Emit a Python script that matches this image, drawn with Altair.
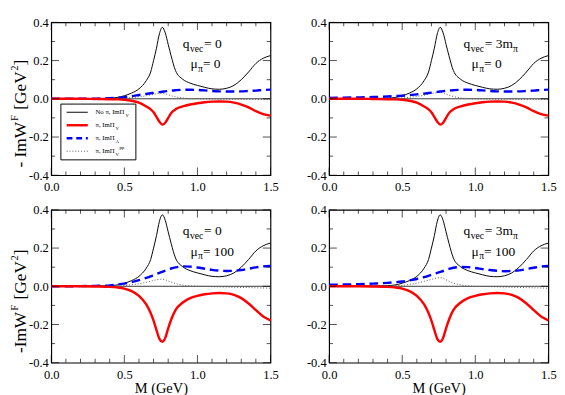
import altair as alt
import pandas as pd

SERIF = "Liberation Serif, Times New Roman, serif"
W, H = 228, 159

# ---------------- data ----------------
M = [0.0, 0.1, 0.2, 0.3, 0.4, 0.45, 0.5, 0.55, 0.6, 0.65, 0.68, 0.7, 0.72, 0.74, 0.76,
     0.78, 0.8, 0.82, 0.85, 0.9, 0.95, 1.0, 1.05, 1.1, 1.15, 1.2, 1.25, 1.3, 1.35, 1.4, 1.45, 1.5]

no_pi_V = [0, 0, 0, 0.001, 0.003, 0.007, 0.016, 0.03, 0.052, 0.095, 0.14, 0.2, 0.265, 0.34, 0.374,
           0.345, 0.285, 0.225, 0.148, 0.102, 0.082, 0.07, 0.06, 0.052, 0.05, 0.055, 0.07, 0.1, 0.14,
           0.185, 0.212, 0.226]

pi_V_mu0 = [0, 0, 0, -0.001, -0.002, -0.003, -0.005, -0.01, -0.02, -0.04, -0.055, -0.07, -0.095,
            -0.12, -0.135, -0.125, -0.1, -0.075, -0.055, -0.04, -0.03, -0.023, -0.018, -0.015,
            -0.014, -0.015, -0.02, -0.03, -0.045, -0.065, -0.08, -0.088]

pi_V_mu100 = [0, 0, 0, -0.001, -0.003, -0.006, -0.012, -0.025, -0.05, -0.095, -0.14, -0.18, -0.23,
              -0.275, -0.29, -0.27, -0.22, -0.175, -0.125, -0.085, -0.062, -0.05, -0.042, -0.037,
              -0.035, -0.037, -0.045, -0.062, -0.09, -0.125, -0.158, -0.178]

pi_A_q0_mu0 = [0, 0, 0.0005, 0.001, 0.003, 0.005, 0.009, 0.014, 0.02, 0.026, 0.029, 0.031, 0.033,
               0.035, 0.037, 0.039, 0.041, 0.043, 0.045, 0.047, 0.047, 0.046, 0.044, 0.041, 0.039,
               0.038, 0.038, 0.039, 0.041, 0.043, 0.046, 0.048]
pi_A_q3_mu0 = [0.005, 0.006, 0.007, 0.009, 0.012, 0.014, 0.016, 0.019, 0.023, 0.027, 0.03, 0.032,
               0.034, 0.036, 0.038, 0.04, 0.042, 0.043, 0.045, 0.047, 0.047, 0.046, 0.044, 0.041,
               0.039, 0.038, 0.038, 0.039, 0.041, 0.043, 0.046, 0.048]
pi_A_q0_mu100 = [0, 0, 0.001, 0.002, 0.005, 0.009, 0.014, 0.022, 0.032, 0.044, 0.052, 0.058, 0.064,
                 0.07, 0.076, 0.082, 0.088, 0.093, 0.099, 0.104, 0.103, 0.098, 0.092, 0.086, 0.082,
                 0.08, 0.081, 0.085, 0.092, 0.099, 0.104, 0.106]
pi_A_q3_mu100 = [0.008, 0.009, 0.011, 0.014, 0.018, 0.021, 0.025, 0.031, 0.038, 0.048, 0.055, 0.06,
                 0.065, 0.07, 0.075, 0.08, 0.086, 0.091, 0.097, 0.101, 0.1, 0.096, 0.09, 0.085,
                 0.081, 0.079, 0.08, 0.083, 0.09, 0.097, 0.103, 0.106]

pi_Vpp_q0_mu0 = [0, 0, 0, 0, 0.001, 0.002, 0.003, 0.006, 0.01, 0.016, 0.02, 0.023, 0.026, 0.028,
                 0.028, 0.026, 0.021, 0.016, 0.01, 0.004, 0.001, 0, -0.001, -0.001, -0.002, -0.002,
                 -0.002, -0.003, -0.003, -0.003, -0.004, -0.004]
pi_Vpp_q3_mu0 = [0, 0, 0, 0.001, 0.002, 0.003, 0.005, 0.008, 0.012, 0.019, 0.024, 0.027, 0.03,
                 0.032, 0.033, 0.031, 0.025, 0.019, 0.012, 0.005, 0.001, 0, -0.001, -0.001, -0.002,
                 -0.002, -0.002, -0.003, -0.003, -0.003, -0.004, -0.004]
pi_Vpp_q0_mu100 = [0, 0, 0, 0, 0.001, 0.002, 0.004, 0.008, 0.013, 0.021, 0.026, 0.03, 0.034, 0.037,
                   0.037, 0.034, 0.028, 0.022, 0.014, 0.006, 0.002, 0, -0.001, -0.002, -0.003,
                   -0.004, -0.005, -0.006, -0.007, -0.008, -0.009, -0.01]
pi_Vpp_q3_mu100 = [0, 0, 0.001, 0.001, 0.002, 0.003, 0.005, 0.01, 0.016, 0.026, 0.032, 0.036, 0.04,
                   0.044, 0.045, 0.042, 0.034, 0.026, 0.017, 0.007, 0.002, 0, -0.001, -0.002, -0.003,
                   -0.004, -0.005, -0.006, -0.007, -0.008, -0.009, -0.01]

x_major = [0.0, 0.5, 1.0, 1.5]
x_minor = [0.1, 0.2, 0.3, 0.4, 0.6, 0.7, 0.8, 0.9, 1.1, 1.2, 1.3, 1.4]
y_major = [-0.4, -0.2, 0.0, 0.2, 0.4]
y_minor = [-0.3, -0.1, 0.1, 0.3]

legend_labels = ["No \u03c0, Im\u03a0", "\u03c0, Im\u03a0", "\u03c0, Im\u03a0", "\u03c0, Im\u03a0"]
legend_subs = ["V", "V", "A", "V"]

# ---------------- helpers ----------------
xs = alt.Scale(domain=[0, 1.5], nice=False, zero=False)
ys = alt.Scale(domain=[-0.4, 0.4], nice=False, zero=False)
one = pd.DataFrame({"z": [0]})
LABEL_EXPR = "datum.value < 0 ? '-' + format(-datum.value, '.1f') : format(datum.value, '.1f')"


def make_axes(bottom):
    common = dict(labelExpr=LABEL_EXPR, ticks=False, domain=False, grid=False,
                  labelFont=SERIF, labelFontSize=13, labelColor="black",
                  labelFlush=False, labelOverlap=False)
    if bottom:
        xax = alt.Axis(values=x_major, title="M (GeV)", titleFont=SERIF, titleFontSize=15,
                       titleFontWeight="normal", titleColor="black", titlePadding=0,
                       labelPadding=6, **common)
    else:
        xax = alt.Axis(values=x_major, title=None, labelPadding=6, **common)
    yax = alt.Axis(values=y_major, title=None, labelPadding=3, **common)
    return xax, yax


def line(vals, color, width, ax, dash=None):
    xax, yax = ax
    df = pd.DataFrame({"M": M, "v": vals})
    kw = dict(color=color, strokeWidth=width, interpolate="monotone")
    if dash:
        kw["strokeDash"] = dash
    return alt.Chart(df).mark_line(**kw).encode(
        x=alt.X("M:Q", scale=xs, axis=xax), y=alt.Y("v:Q", scale=ys, axis=yax))


def ticks(vals, side, length, ax):
    xax, yax = ax
    df = pd.DataFrame({"M": vals, "v": vals})
    half = length / 2
    if side in ("bottom", "top"):
        off = -half if side == "bottom" else half
        yv = -0.4 if side == "bottom" else 0.4
        return alt.Chart(df).mark_tick(orient="vertical", size=length, thickness=1, color="black",
                                       yOffset=off).encode(
            x=alt.X("M:Q", scale=xs, axis=xax), y=alt.datum(yv, scale=ys, axis=yax))
    off = half if side == "left" else -half
    xv = 0.0 if side == "left" else 1.5
    return alt.Chart(df).mark_tick(orient="horizontal", size=length, thickness=1, color="black",
                                   xOffset=off).encode(
        y=alt.Y("v:Q", scale=ys, axis=yax), x=alt.datum(xv, scale=xs, axis=xax))


def dtext(s, xv, yv, size, ax, dx=0, dy=0):
    xax, yax = ax
    df = pd.DataFrame({"M": [xv], "v": [yv]})
    return alt.Chart(df).mark_text(font=SERIF, fontSize=size, color="black", align="left",
                                   baseline="alphabetic", dx=dx, dy=dy).encode(
        x=alt.X("M:Q", scale=xs, axis=xax), y=alt.Y("v:Q", scale=ys, axis=yax),
        text=alt.value(s))


def ptext(s, px, py, size, angle=0, baseline="alphabetic", dy=0):
    return alt.Chart(one).mark_text(font=SERIF, fontSize=size, color="black", align="left",
                                    baseline=baseline, angle=angle, dy=dy).encode(
        x=alt.value(px), y=alt.value(py), text=alt.value(s))


def prule(x1, x2, y, color, width, dash=None):
    kw = dict(color=color, strokeWidth=width)
    if dash:
        kw["strokeDash"] = dash
    return alt.Chart(one).mark_rule(**kw).encode(x=alt.value(x1), x2=alt.value(x2), y=alt.value(y))


def panel(blue, dotted, red, q3, mu100, left, bottom, legend):
    ax = make_axes(bottom)
    zero_df = pd.DataFrame({"v": [0.0]})
    layers = [
        alt.Chart(zero_df).mark_rule(color="#333333", strokeWidth=1).encode(
            y=alt.Y("v:Q", scale=ys, axis=ax[1])),
        line(no_pi_V, "black", 1, ax),
        line(dotted, "#555555", 1, ax, dash=[1, 2]),
        line(blue, "#0000ff", 2.5, ax, dash=[9, 5]),
        line(red, "#ff0000", 2.5, ax),
    ]
    for side in ("bottom", "top"):
        layers.append(ticks(x_major, side, 8, ax))
        layers.append(ticks(x_minor, side, 4, ax))
    for side in ("left", "right"):
        layers.append(ticks(y_major, side, 8, ax))
        layers.append(ticks(y_minor, side, 4, ax))

    # annotations
    qx = 0.92 if q3 else 0.9
    mx = 0.974 if q3 else 0.952
    layers.append(dtext("q", qx, 0.266, 14, ax))
    layers.append(dtext("vec", qx, 0.266, 10, ax, dx=7.5, dy=4))
    if q3:
        layers.append(dtext("= 3m", qx, 0.266, 14, ax, dx=22))
        layers.append(dtext("\u03c0", qx, 0.266, 10, ax, dx=51.5, dy=4))
    else:
        layers.append(dtext("= 0", qx, 0.266, 14, ax, dx=22))
    layers.append(dtext("\u03bc", mx, 0.161, 14, ax))
    layers.append(dtext("\u03c0", mx, 0.161, 10, ax, dx=8, dy=4))
    layers.append(dtext("= 100" if mu100 else "= 0", mx, 0.161, 14, ax, dx=13))

    if left:
        bx = -26
        if bottom:
            layers.append(ptext("-ImW", bx, 149, 18, angle=270))
            fy = 105
        else:
            layers.append(ptext("- ImW", bx, 151, 18, angle=270))
            fy = 102.5
        layers.append(ptext("F", bx - 9, fy, 11, angle=270))
        gy = fy - 11.7
        layers.append(ptext("[GeV", bx, gy, 18, angle=270))
        layers.append(ptext("2", bx - 9, gy - 40.5, 11, angle=270))
        layers.append(ptext("]", bx, gy - 46, 18, angle=270))

    if legend:
        layers.append(alt.Chart(one).mark_rect(fill="white", stroke="black", strokeWidth=1).encode(
            x=alt.value(10), x2=alt.value(88), y=alt.value(85), y2=alt.value(143)))
        rows = [93.5, 107, 120.5, 134]
        layers.append(prule(16, 38, rows[0], "black", 1))
        layers.append(prule(16, 38, rows[1], "#ff0000", 2.5))
        layers.append(prule(16, 38, rows[2], "#0000ff", 2.5, dash=[6, 4]))
        layers.append(prule(16, 38, rows[3], "#555555", 1, dash=[1, 2]))
        widths = [30.7, 20.4, 20.4, 20.4]
        for lab, sub, r, w in zip(legend_labels, legend_subs, rows, widths):
            layers.append(ptext(lab, 46, r, 7, baseline="middle"))
            layers.append(ptext(sub, 46 + w + 0.5, r, 5, baseline="middle", dy=2.5))
        layers.append(ptext("pp", 46 + widths[3] + 4.5, rows[3], 5, baseline="middle", dy=-4))

    return alt.layer(*layers).properties(width=W, height=H)


tl = panel(pi_A_q0_mu0, pi_Vpp_q0_mu0, pi_V_mu0, False, False, True, False, True)
tr = panel(pi_A_q3_mu0, pi_Vpp_q3_mu0, pi_V_mu0, True, False, False, False, False)
bl = panel(pi_A_q0_mu100, pi_Vpp_q0_mu100, pi_V_mu100, False, True, True, True, False)
br = panel(pi_A_q3_mu100, pi_Vpp_q3_mu100, pi_V_mu100, True, True, False, True, False)

chart = alt.vconcat(
    alt.hconcat(tl, tr, spacing=27),
    alt.hconcat(bl, br, spacing=27),
    spacing=9,
).properties(padding=0).configure_view(stroke="black", strokeWidth=1.2)

chart.save("out.html", embed_options={"renderer": "svg", "actions": False})
